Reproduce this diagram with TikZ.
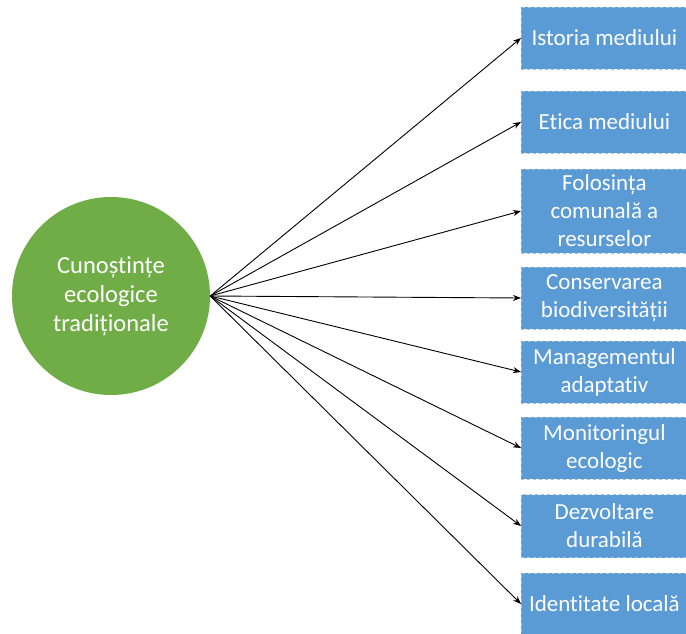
\documentclass[tikz,border=0pt]{standalone}
\usepackage{fontspec}
\setmainfont[Ligatures={NoCommon}]{Carlito}
\usetikzlibrary{arrows.meta}
\definecolor{cgreen}{HTML}{70AD47}
\definecolor{cblue}{HTML}{5B9BD5}
\definecolor{cborder}{HTML}{9DC3E6}
\tikzset{
  box/.style={rectangle, fill=cblue, draw=cborder, dashed, line width=0.8pt,
    minimum width=166pt, anchor=west, align=center, text=white,
    font=\fontsize{23}{28}\selectfont, inner sep=1pt},
  hub/.style={circle, fill=cgreen, minimum size=198pt, align=center, text=white,
    font=\fontsize{24.5}{29}\selectfont, inner sep=0pt},
  arr/.style={-{Stealth[length=8pt,width=6pt]}, line width=0.9pt, black}
}
\begin{document}
\begin{tikzpicture}[x=1pt,y=-1pt]
\useasboundingbox (0,0) rectangle (686,634);
\fill[white] (0,0) rectangle (686,634);
\node[hub] (c) at (111,296) {Cunoștințe\\ecologice\\tradiționale};
\node[box, minimum height=62pt] (b1) at (521,38) {Istoria mediului};
\node[box, minimum height=62pt] (b2) at (521,122) {Etica mediului};
\node[box, minimum height=84pt] (b3) at (521,211) {Folosința\\comunală a\\resurselor};
\node[box, minimum height=62pt] (b4) at (521,298) {Conservarea\\biodiversității};
\node[box, minimum height=62pt] (b5) at (521,372) {Managementul\\adaptativ};
\node[box, minimum height=62pt] (b6) at (521,448) {Monitoringul\\ecologic};
\node[box, minimum height=63pt] (b7) at (521,526) {Dezvoltare\\durabilă};
\node[box, minimum height=62pt] (b8) at (521,604) {Identitate locală};
\foreach \i in {1,...,8} {
  \draw[arr] (c.east) -- (b\i.west);
}
\end{tikzpicture}
\end{document}
